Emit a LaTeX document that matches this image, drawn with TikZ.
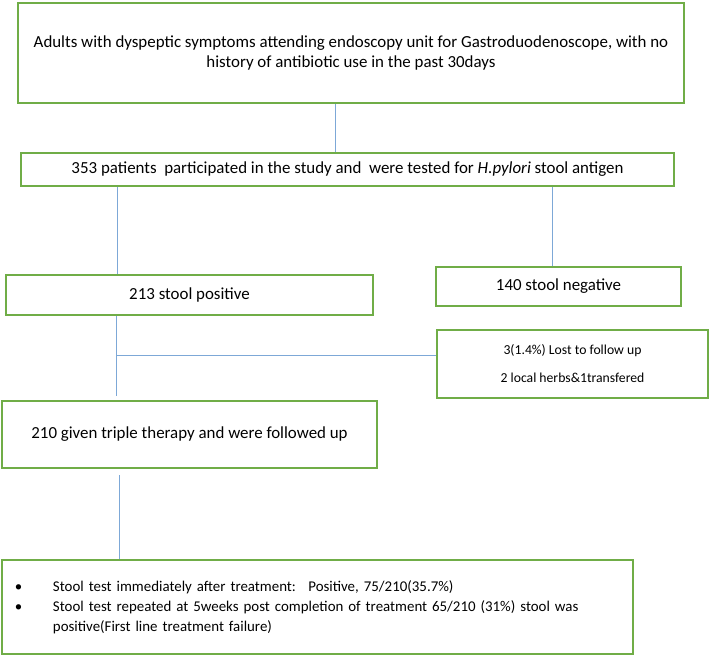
\documentclass[tikz,border=0pt]{standalone}
\usepackage{fontspec}
\setmainfont{Carlito}
\usepackage{xcolor}
\usepackage{tikz}
\usetikzlibrary{calc}
\definecolor{boxgreen}{RGB}{112,173,71}
\definecolor{linkblue}{RGB}{125,168,215}
\tikzset{
	stage/.style={draw=boxgreen, line width=2bp, fill=white, align=center, inner sep=0pt},
	link/.style={draw=linkblue, line width=0.9bp},
	bigfont/.style={font=\fontsize{16.9bp}{20.5bp}\selectfont},
	smallfont/.style={font=\fontsize{13.7bp}{28bp}\selectfont},
	listfont/.style={font=\fontsize{14.9bp}{20bp}\selectfont}
}

\begin{document}
\begin{tikzpicture}[x=1bp, y=-1bp]
	\useasboundingbox (0,0) rectangle (710,656);

	% Boxes
	\node[stage, bigfont, minimum width=666bp, minimum height=100bp] (intake) at (351,53)
	{Adults with dyspeptic symptoms attending endoscopy unit for Gastroduodenoscope, with no\\
	history of antibiotic use in the past 30days};
	\node[stage, bigfont, minimum width=653bp, minimum height=33bp] (tested) at (347.5,169.5)
	{353 patients~ participated in the study and~ were tested for \textit{H.pylori} stool antigen};
	\node[stage, bigfont, minimum width=367bp, minimum height=40bp] (pos) at (189.5,295)
	{213 stool positive};
	\node[stage, bigfont, minimum width=245bp, minimum height=39bp] (neg) at (558.5,286.5)
	{140 stool negative};
	\node[stage, smallfont, minimum width=271bp, minimum height=68bp] (lost) at (572.5,364)
	{3(1.4\%) Lost to follow up\\2 local herbs\&1transfered};
	\node[stage, bigfont, minimum width=375bp, minimum height=67bp] (treated) at (189.5,434.5)
	{210 given triple therapy and were followed up};
	\node[stage, listfont, minimum width=631bp, minimum height=94bp, text width=605bp,
	align=left, inner xsep=12bp] (followup) at (317.5,607)
	{\begin{tabular}{@{}p{38bp}@{}l@{}}
	\textbullet & Stool test immediately after treatment:~ Positive, 75/210(35.7\%)\\
	\textbullet & Stool test repeated at 5weeks post completion of treatment 65/210 (31\%) stool was\\
	 & positive(First line treatment failure)
	\end{tabular}};

	% Links
	\coordinate[](c1) at ([xshift=-16bp]intake.south);
	\draw[link] (c1) -- (c1 |- tested.north);

	\coordinate[](c2) at ([xshift=-72.5bp]pos.north);
	\draw[link] (c2 |- tested.south) -- (c2);

	\coordinate[](c3) at ([xshift=-6.5bp]neg.north);
	\draw[link] (c3 |- tested.south) -- (c3);

	\coordinate[](c4) at ([xshift=-73.5bp]pos.south);
	\draw[link, shorten >=4bp] (c4) -- (c4 |- treated.north);

	\coordinate[](split) at (116,355);
	\draw[link] (split) -- (split -| lost.west);

	\coordinate[](c5) at ([xshift=-70.5bp, yshift=-6bp]treated.south);
	\draw[link] (c5) -- (c5 |- followup.north);
\end{tikzpicture}
\end{document}
